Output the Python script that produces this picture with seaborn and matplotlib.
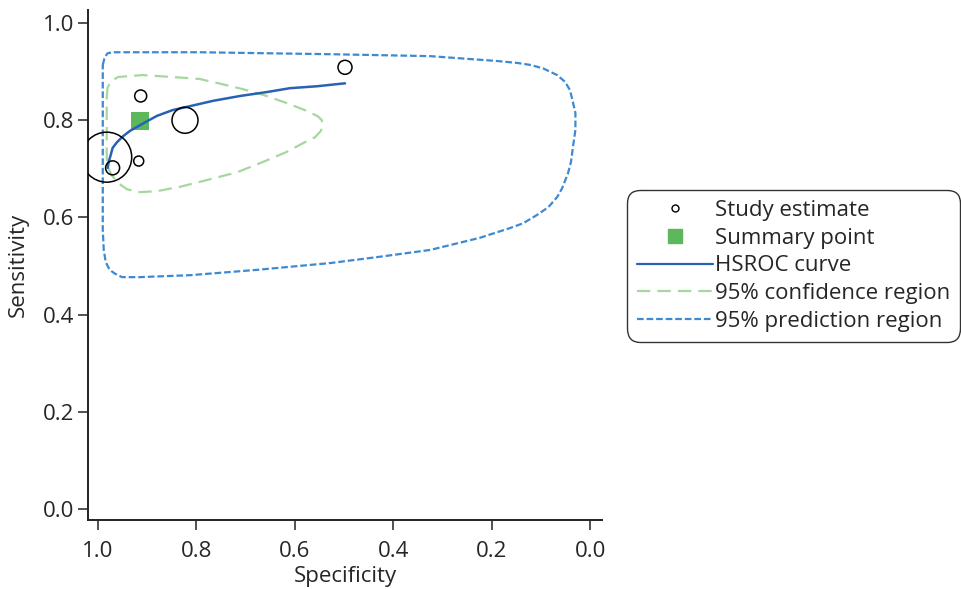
import numpy as np
import pandas as pd
import matplotlib
matplotlib.use("Agg")
import matplotlib.pyplot as plt
from matplotlib.lines import Line2D
import seaborn as sns

# ---- data ----
study_spec = [0.498, 0.913, 0.823, 0.982, 0.970, 0.917]
study_sens = [0.909, 0.850, 0.800, 0.724, 0.702, 0.716]
study_weight = [49, 36, 169, 625, 49, 25]   # relative study size (circle area)

summary_spec = [0.915]
summary_sens = [0.798]

hsroc_spec = [0.980, 0.978, 0.974, 0.970, 0.961, 0.949, 0.935, 0.921, 0.900, 0.880,
              0.848, 0.813, 0.766, 0.711, 0.657, 0.610, 0.555, 0.508, 0.498]
hsroc_sens = [0.702, 0.714, 0.728, 0.743, 0.755, 0.767, 0.778, 0.786, 0.798, 0.809,
              0.821, 0.829, 0.840, 0.850, 0.858, 0.866, 0.870, 0.875, 0.876]

conf_spec = [0.982, 0.980, 0.972, 0.959, 0.935, 0.909, 0.848, 0.793, 0.746, 0.705,
             0.657, 0.610, 0.575, 0.553, 0.545, 0.543, 0.547, 0.559, 0.583, 0.616,
             0.665, 0.717, 0.778, 0.833, 0.880, 0.915, 0.941, 0.959, 0.972, 0.980,
             0.982, 0.982, 0.982]
conf_sens = [0.848, 0.868, 0.881, 0.889, 0.891, 0.893, 0.889, 0.885, 0.874, 0.864,
             0.850, 0.833, 0.819, 0.808, 0.800, 0.790, 0.778, 0.765, 0.753, 0.735,
             0.714, 0.693, 0.677, 0.663, 0.654, 0.652, 0.658, 0.671, 0.687, 0.704,
             0.724, 0.794, 0.848]

pred_spec = [0.990, 0.986, 0.980, 0.970, 0.793, 0.528, 0.325, 0.189, 0.148, 0.122,
             0.096, 0.067, 0.051, 0.041, 0.035, 0.030, 0.030, 0.035, 0.039, 0.045,
             0.057, 0.067, 0.085, 0.108, 0.136, 0.163, 0.224, 0.325, 0.427, 0.528,
             0.677, 0.813, 0.915, 0.951, 0.965, 0.976, 0.984, 0.988, 0.990, 0.990,
             0.990, 0.990]
pred_sens = [0.914, 0.930, 0.938, 0.940, 0.940, 0.936, 0.932, 0.922, 0.918, 0.914,
             0.907, 0.893, 0.879, 0.862, 0.837, 0.815, 0.780, 0.745, 0.714, 0.691,
             0.660, 0.642, 0.621, 0.605, 0.588, 0.578, 0.558, 0.533, 0.519, 0.506,
             0.492, 0.481, 0.477, 0.477, 0.484, 0.492, 0.508, 0.533, 0.574, 0.677,
             0.842, 0.914]

ticks = [0.0, 0.2, 0.4, 0.6, 0.8, 1.0]
tick_labels = ["0.0", "0.2", "0.4", "0.6", "0.8", "1.0"]

labels = ["Study estimate", "Summary point", "HSROC curve",
          "95% confidence region", "95% prediction region"]

# ---- styling ----
sns.set_style("ticks")
plt.rcParams["font.family"] = ["Open Sans", "DejaVu Sans"]
FS = 16

c_hsroc = "#2862b4"
c_pred = "#3d89d2"
c_conf = "#a5d89e"
c_sum = "#5cb85a"
pred_dash = (0, (3.0, 1.3))
conf_dash = (0, (6, 3.2))

fig = plt.figure(figsize=(9.61, 5.89), dpi=100)
ax = fig.add_axes([88 / 961, (589 - 520) / 589, (602 - 88) / 961, (520 - 10) / 589])

pred_df = pd.DataFrame({"spec": pred_spec, "sens": pred_sens})
conf_df = pd.DataFrame({"spec": conf_spec, "sens": conf_sens})
hs_df = pd.DataFrame({"spec": hsroc_spec, "sens": hsroc_sens})
st_df = pd.DataFrame({"spec": study_spec, "sens": study_sens, "w": study_weight})
sm_df = pd.DataFrame({"spec": summary_spec, "sens": summary_sens})

sns.lineplot(data=pred_df, x="spec", y="sens", sort=False, estimator=None, ax=ax,
             color=c_pred, lw=1.6, linestyle=pred_dash, zorder=2)
sns.lineplot(data=conf_df, x="spec", y="sens", sort=False, estimator=None, ax=ax,
             color=c_conf, lw=1.6, linestyle=conf_dash, zorder=2)
sns.scatterplot(data=sm_df, x="spec", y="sens", marker="s", s=160, color=c_sum,
                linewidth=0, ax=ax, zorder=3)
sns.lineplot(data=hs_df, x="spec", y="sens", sort=False, estimator=None, ax=ax,
             color=c_hsroc, lw=1.8, zorder=4)
max_area = (2 * 25 * 0.72) ** 2
sns.scatterplot(data=st_df, x="spec", y="sens", size="w", sizes=(0, max_area),
                size_norm=(0, max(study_weight)), facecolor="none", edgecolor="black",
                linewidth=1.1, legend=False, ax=ax, zorder=5)

ax.set_xlim(1.02, -0.024)
ax.set_ylim(-0.023, 1.027)
ax.set_xticks(ticks)
ax.set_xticklabels(tick_labels)
ax.set_yticks(ticks)
ax.set_yticklabels(tick_labels)
ax.tick_params(axis="both", labelsize=FS, length=7, width=1.1, color="#222222", pad=3)
ax.tick_params(axis="x", pad=8)
for s in ["left", "bottom"]:
    ax.spines[s].set_linewidth(1.4)
    ax.spines[s].set_color("#222222")
sns.despine(ax=ax)
ax.set_xlabel("Specificity", fontsize=FS, labelpad=3)
ax.set_ylabel("Sensitivity", fontsize=FS, labelpad=10)

handles = [
    Line2D([], [], linestyle="none", marker="o", markersize=5, markerfacecolor="none",
           markeredgecolor="black", markeredgewidth=1.0),
    Line2D([], [], linestyle="none", marker="s", markersize=10, color=c_sum),
    Line2D([], [], color=c_hsroc, lw=1.6),
    Line2D([], [], color=c_conf, lw=1.6, linestyle=conf_dash),
    Line2D([], [], color=c_pred, lw=1.6, linestyle=pred_dash),
]
leg = fig.legend(handles, labels, loc="center left",
                 bbox_to_anchor=(627 / 961, (589 - 266) / 589),
                 fontsize=FS, frameon=True, fancybox=True, handlelength=3.4,
                 handletextpad=0.1, labelspacing=0.3, borderpad=0.45,
                 borderaxespad=0)
leg.get_frame().set_edgecolor("black")
leg.get_frame().set_linewidth(1.0)
leg.get_frame().set_boxstyle("round,pad=0,rounding_size=0.6")

fig.savefig("out.png", dpi=100)
